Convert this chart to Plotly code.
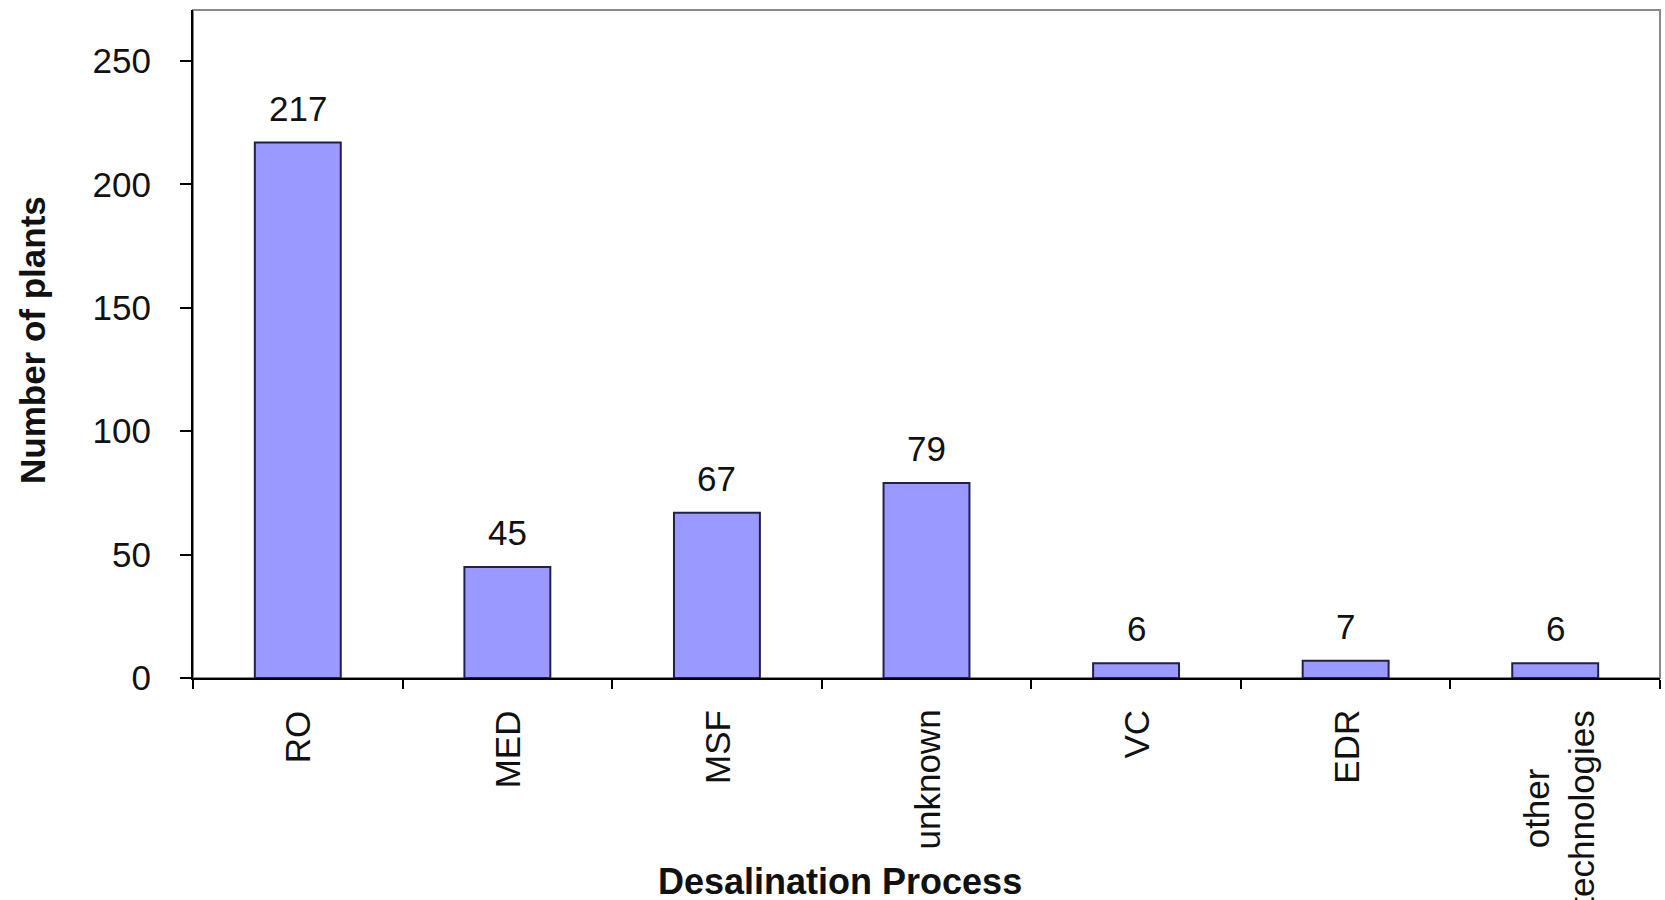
import plotly.graph_objects as go

categories = ["RO", "MED", "MSF", "unknown", "VC", "EDR", "other technologies"]
cat_labels = ["RO", "MED", "MSF", "unknown", "VC", "EDR", "other<br>technologies"]
plants = [217, 45, 67, 79, 6, 7, 6]
y_ticks = [0, 50, 100, 150, 200, 250]

FONT = "Liberation Sans, Arial, sans-serif"
TXT = "#111111"

W, H = 1665, 900
L, R, T, B = 193, 5, 10, 222
pw, ph = W - L - R, H - T - B

fig = go.Figure()
fig.add_trace(go.Bar(
    x=categories, y=plants,
    marker=dict(color="#9999FF", line=dict(color="#1f1f50", width=2)),
    width=0.41,
    hoverinfo="x+y",
))

annotations = []
# value labels above bars
for c, v in zip(categories, plants):
    annotations.append(dict(
        x=c, y=v, xref="x", yref="y", text=str(v), showarrow=False,
        yanchor="bottom", yshift=13,
        font=dict(family=FONT, size=35, color=TXT),
    ))
# rotated category labels below the axis
for c, lab in zip(categories, cat_labels):
    annotations.append(dict(
        x=c, y=0, xref="x", yref="y", text=lab, showarrow=False,
        textangle=-90, align="center", xanchor="center", yanchor="top",
        yshift=-30, xshift=4 if "<br>" in lab else 0,
        font=dict(family=FONT, size=35, color=TXT),
    ))


def px_to_paper(xp, yp):
    return (xp - L) / pw, 1 - (yp - T) / ph


tx, ty = px_to_paper(840, 881)
annotations.append(dict(
    x=tx, y=ty, xref="paper", yref="paper", text="<b>Desalination Process</b>",
    showarrow=False, xanchor="center", yanchor="middle",
    font=dict(family=FONT, size=36, color=TXT),
))
yx, yy = px_to_paper(32, 340)
annotations.append(dict(
    x=yx, y=yy, xref="paper", yref="paper", text="<b>Number of plants</b>",
    showarrow=False, textangle=-90, xanchor="center", yanchor="middle",
    font=dict(family=FONT, size=35, color=TXT),
))

fig.update_layout(
    width=W, height=H,
    margin=dict(l=L, r=R, t=T, b=B, pad=0, autoexpand=False),
    paper_bgcolor="white", plot_bgcolor="white",
    showlegend=False,
    annotations=annotations,
    font=dict(family=FONT, size=35, color=TXT),
    shapes=[dict(type="rect", xref="x domain", yref="y domain", x0=0, x1=1, y0=0, y1=1,
                 line=dict(color="#8a8a8a", width=2), layer="below")],
)
fig.update_xaxes(
    type="category", tickmode="array", tickvals=categories, showticklabels=False,
    tickson="boundaries", ticks="outside", ticklen=9, tickwidth=2,
    tickcolor="black", showline=True, linecolor="black", linewidth=2,
    showgrid=False, automargin=False,
    range=[-0.5, 6.5],
)
fig.update_yaxes(
    range=[0, 270.7], tickmode="array", tickvals=y_ticks,
    ticks="outside", ticklen=11, tickwidth=2, tickcolor="black",
    showline=True, linecolor="black", linewidth=2, showgrid=False, zeroline=False,
    ticklabelstandoff=22, automargin=False,
    tickfont=dict(family=FONT, size=35, color=TXT),
)

fig.write_html("out.html")
